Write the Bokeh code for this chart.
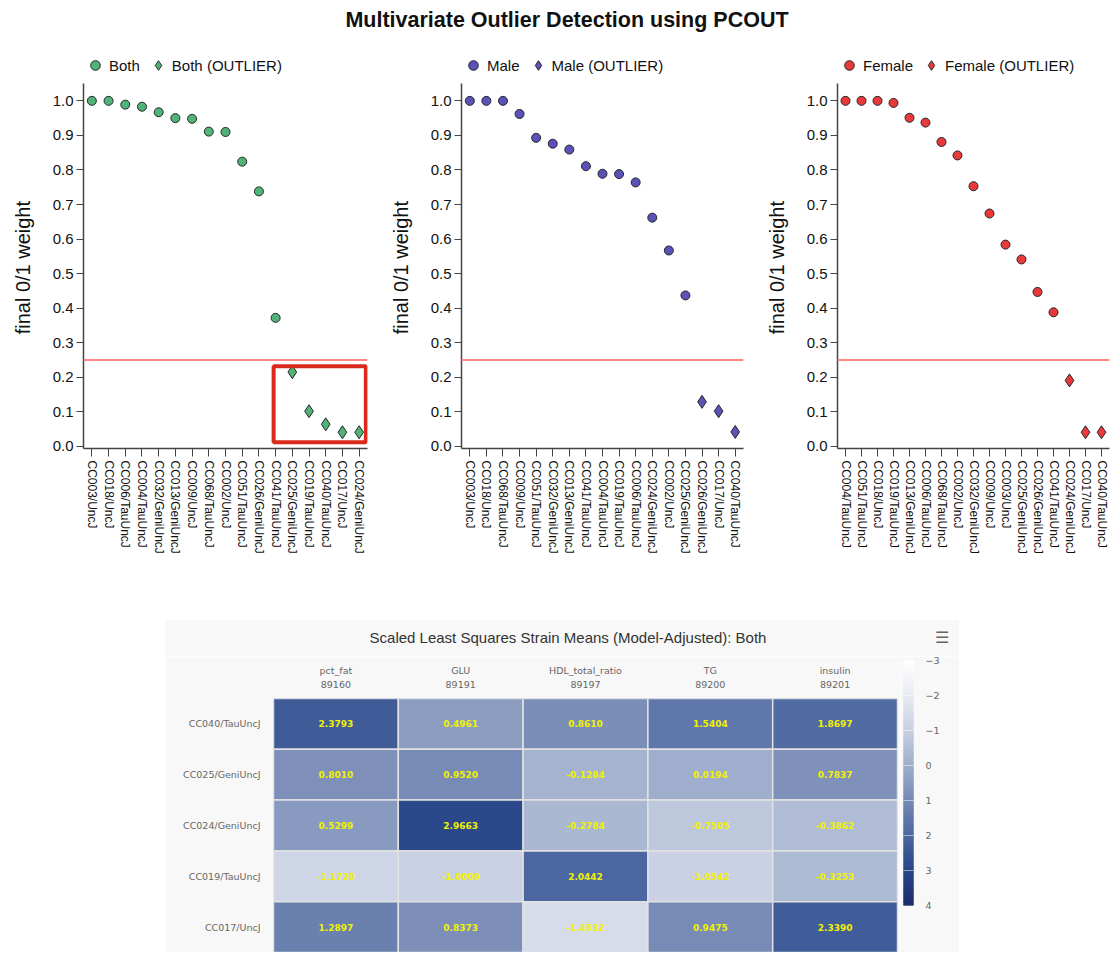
import numpy as np
from bokeh.plotting import figure
from bokeh.models import (FactorRange, Range1d, Legend, LegendItem, Span, BoxAnnotation,
                          FixedTicker, NumeralTickFormatter, ColumnDataSource,
                          LinearColorMapper, Div)
from bokeh.layouts import column, row
from bokeh.transform import transform
from bokeh.core.properties import value
from bokeh.embed import file_html
from bokeh.resources import INLINE

# ---------------- data ----------------
TITLE = "Multivariate Outlier Detection using PCOUT"
THRESHOLD = 0.25
Y_LABEL = "final 0/1 weight"
Y_TICKS = [0.0, 0.1, 0.2, 0.3, 0.4, 0.5, 0.6, 0.7, 0.8, 0.9, 1.0]

both_strains = ["CC003/UncJ", "CC018/UncJ", "CC006/TauUncJ", "CC004/TauUncJ", "CC032/GeniUncJ",
                "CC013/GeniUncJ", "CC009/UncJ", "CC068/TauUncJ", "CC002/UncJ", "CC051/TauUncJ",
                "CC026/GeniUncJ", "CC041/TauUncJ", "CC025/GeniUncJ", "CC019/TauUncJ",
                "CC040/TauUncJ", "CC017/UncJ", "CC024/GeniUncJ"]
both_weights = [1.0, 1.0, 0.989, 0.983, 0.967, 0.950, 0.948, 0.911, 0.910, 0.824, 0.738,
                0.372, 0.215, 0.102, 0.064, 0.041, 0.041]

male_strains = ["CC003/UncJ", "CC018/UncJ", "CC068/TauUncJ", "CC009/UncJ", "CC051/TauUncJ",
                "CC032/GeniUncJ", "CC013/GeniUncJ", "CC041/TauUncJ", "CC004/TauUncJ",
                "CC019/TauUncJ", "CC006/TauUncJ", "CC024/GeniUncJ", "CC002/UncJ",
                "CC025/GeniUncJ", "CC026/GeniUncJ", "CC017/UncJ", "CC040/TauUncJ"]
male_weights = [1.0, 1.0, 1.0, 0.962, 0.893, 0.876, 0.859, 0.811, 0.789, 0.788, 0.764,
                0.662, 0.567, 0.437, 0.129, 0.102, 0.042]

female_strains = ["CC004/TauUncJ", "CC051/TauUncJ", "CC018/UncJ", "CC019/TauUncJ",
                  "CC013/GeniUncJ", "CC006/TauUncJ", "CC068/TauUncJ", "CC002/UncJ",
                  "CC032/GeniUncJ", "CC009/UncJ", "CC003/UncJ", "CC025/GeniUncJ",
                  "CC026/GeniUncJ", "CC041/TauUncJ", "CC024/GeniUncJ", "CC017/UncJ",
                  "CC040/TauUncJ"]
female_weights = [1.0, 1.0, 1.0, 0.994, 0.951, 0.937, 0.881, 0.842, 0.753, 0.674, 0.584,
                  0.541, 0.447, 0.388, 0.191, 0.041, 0.041]

# highlight box drawn around the "Both" outliers (x in category units, y in weight units)
HIGHLIGHT = dict(left=11.38, right=16.9, bottom=0.012, top=0.232)

HEAT_TITLE = "Scaled Least Squares Strain Means (Model-Adjusted): Both"
traits = ["pct_fat", "GLU", "HDL_total_ratio", "TG", "insulin"]
trait_ids = ["89160", "89191", "89197", "89200", "89201"]
heat_strains = ["CC040/TauUncJ", "CC025/GeniUncJ", "CC024/GeniUncJ", "CC019/TauUncJ", "CC017/UncJ"]
heat_values = [
    [2.3793, 0.4961, 0.8610, 1.5404, 1.8697],
    [0.8010, 0.9520, -0.1284, 0.0194, 0.7837],
    [0.5299, 2.9663, -0.2784, -0.7505, -0.3862],
    [-1.1720, -1.0009, 2.0442, -1.0542, -0.3253],
    [1.2897, 0.8373, -1.4532, 0.9475, 2.3390],
]
CB_LOW, CB_HIGH = -3, 4
CB_TICKS = [-3, -2, -1, 0, 1, 2, 3, 4]
CB_ANCHORS = ["#ffffff", "#e8ebf3", "#c8d0e3", "#a0afcc", "#7689b5", "#4d68a1", "#29478a", "#1c2d70"]

FONT = "Liberation Sans"
SMALL_FONT = "DejaVu Sans"
PANEL_H, BORDER_TOP, BORDER_BOTTOM = 553, 8, 150
Y_BOTTOM, Y_AXIS_TOP, Y_FRAME_TOP = -0.006, 1.05, 1.137   # frame extends above the axis for the legend
BG = "#f8f8f8"


def make_palette(anchors, n=256):
    rgb = np.array([[int(a[i:i + 2], 16) for i in (1, 3, 5)] for a in anchors], dtype=float)
    pos = np.linspace(0, 1, len(anchors))
    t = np.linspace(0, 1, n)
    out = []
    for tt in t:
        r = [np.interp(tt, pos, rgb[:, k]) for k in range(3)]
        out.append("#%02x%02x%02x" % tuple(int(round(c)) for c in r))
    return out


def panel(name, strains, weights, color, width, bl, br, highlight=None):
    p = figure(x_range=FactorRange(factors=strains), y_range=Range1d(Y_BOTTOM, Y_FRAME_TOP),
               width=width, height=PANEL_H, output_backend="svg", toolbar_location=None,
               min_border_left=bl, min_border_right=br, min_border_top=BORDER_TOP,
               min_border_bottom=BORDER_BOTTOM,
               outline_line_color=None, background_fill_color="white", border_fill_color="white")
    p.grid.visible = False
    inl = ColumnDataSource(dict(x=[s for s, w in zip(strains, weights) if w >= THRESHOLD],
                                y=[w for w in weights if w >= THRESHOLD]))
    out = ColumnDataSource(dict(x=[s for s, w in zip(strains, weights) if w < THRESHOLD],
                                y=[w for w in weights if w < THRESHOLD]))
    p.add_layout(Span(location=THRESHOLD, dimension="width", line_color="#ff8585", line_width=2))
    r1 = p.scatter("x", "y", source=inl, marker="circle", size=9, fill_color=color,
                   line_color="#262626", line_width=1)
    r2 = p.scatter("x", "y", source=out, marker="diamond", size=13, fill_color=color,
                   line_color="#262626", line_width=1)
    if highlight:
        p.add_layout(BoxAnnotation(fill_alpha=0, line_color="#d92a1c", line_alpha=1.0,
                                   line_width=4, **highlight))
    leg = Legend(items=[LegendItem(label=name, renderers=[r1]),
                        LegendItem(label=name + " (OUTLIER)", renderers=[r2])],
                 orientation="horizontal", location="top_left", glyph_width=24,
                 glyph_height=24, label_standoff=2, spacing=6, padding=3, margin=0,
                 border_line_color=None, background_fill_alpha=0, label_text_font=FONT,
                 label_text_font_size="15px", label_text_color="#111111")
    p.add_layout(leg, "center")

    ya = p.yaxis[0]
    ya.bounds = (Y_BOTTOM, Y_AXIS_TOP)
    ya.ticker = FixedTicker(ticks=Y_TICKS)
    ya.formatter = NumeralTickFormatter(format="0.0")
    # trailing no-break spaces centre the label on the axis line instead of the taller frame
    ya.axis_label = Y_LABEL + "\u00a0" * 6
    ya.axis_label_text_font = FONT
    ya.axis_label_text_font_size = "20px"
    ya.axis_label_text_font_style = "normal"
    ya.axis_label_text_color = "#111111"
    ya.axis_label_standoff = 16
    ya.major_label_text_font = FONT
    ya.major_label_text_font_size = "15px"
    ya.major_label_text_color = "#111111"
    ya.major_label_standoff = 3
    ya.major_tick_out = 7
    ya.major_tick_in = 0
    ya.minor_tick_out = 0
    ya.minor_tick_in = 0
    ya.axis_line_color = "#444444"
    ya.axis_line_width = 1.5
    ya.major_tick_line_color = "#444444"

    xa = p.xaxis[0]
    xa.major_label_orientation = "vertical"
    xa.major_label_text_font = FONT
    xa.major_label_text_font_size = "12px"
    xa.major_label_text_color = "#111111"
    xa.major_label_standoff = 4
    xa.major_tick_out = 8
    xa.major_tick_in = 0
    xa.axis_line_color = "#444444"
    xa.axis_line_width = 1.5
    xa.major_tick_line_color = "#444444"
    return p


p1 = panel("Both", both_strains, both_weights, "#50b478", 372, 75, 13, HIGHLIGHT)
p2 = panel("Male", male_strains, male_weights, "#5b52b8", 376, 81, 13)
p3 = panel("Female", female_strains, female_weights, "#e8393b", 356, 81, 3)

title_div = Div(text=('<div style="box-sizing:border-box;width:1104px;padding-left:14px;'
                      'text-align:center;font-family:\'Liberation Sans\',Arial,sans-serif;'
                      'font-weight:bold;font-size:21.5px;line-height:24px;color:#111;">'
                      + TITLE + '</div>'),
                width=1104, height=37, margin=(0, 0, 0, 0))

# ---------------- heatmap ----------------
palette = make_palette(CB_ANCHORS)
mapper = LinearColorMapper(palette=palette, low=CB_LOW, high=CB_HIGH)
header = [t + "\n" + i for t, i in zip(traits, trait_ids)]
xs, ys, vs, labs = [], [], [], []
for strain, vals in zip(heat_strains, heat_values):
    for h, v in zip(header, vals):
        xs.append(h)
        ys.append(strain)
        vs.append(v)
        labs.append("%.4f" % v)
hsrc = ColumnDataSource(dict(x=xs, y=ys, v=vs, lab=labs))

heat_title_div = Div(text=(
    '<div style="position:relative;box-sizing:border-box;width:794px;height:36px;'
    'background:' + BG + ';padding-top:9px;padding-left:12px;text-align:center;'
    'font-family:\'Liberation Sans\',Arial,sans-serif;font-size:15px;line-height:18px;color:#333;">'
    + HEAT_TITLE +
    '<span style="position:absolute;left:770px;top:10px;font-family:\'DejaVu Sans\';'
    'font-size:16px;line-height:16px;color:#666;">\u2630</span></div>'),
    width=794, height=36, margin=(0, 0, 0, 0))

heat = figure(x_range=FactorRange(factors=header), y_range=FactorRange(factors=list(reversed(heat_strains))),
              x_axis_location="above", width=735, height=296, output_backend="svg",
              toolbar_location=None, min_border_left=108, min_border_right=3, min_border_top=42,
              min_border_bottom=0, outline_line_color=None, background_fill_color=BG,
              border_fill_color=BG, frame_align=False)
heat.grid.visible = False
heat.rect("x", "y", width=1, height=1, source=hsrc, fill_color=transform("v", mapper),
          line_color="#e2e2e2", line_width=1.5)
heat.text("x", "y", text="lab", source=hsrc, text_align="center", text_baseline="middle",
          text_color="#f2f200", text_font=value(SMALL_FONT), text_font_style="bold",
          text_font_size="9px")
for ax in (heat.xaxis[0], heat.yaxis[0]):
    ax.axis_line_color = None
    ax.major_tick_line_color = None
    ax.minor_tick_line_color = None
    ax.major_tick_out = 0
    ax.major_tick_in = 0
    ax.major_label_text_font = SMALL_FONT
    ax.major_label_text_font_size = "9.5px"
    ax.major_label_text_color = "#666666"
heat.xaxis[0].major_label_standoff = 9
heat.yaxis[0].major_label_standoff = 13

# colour bar (vertical, -3 on top)
cb_steps = np.linspace(CB_LOW, CB_HIGH, 141)
cbsrc = ColumnDataSource(dict(y=cb_steps))
cb = figure(x_range=Range1d(0, 1), y_range=Range1d(CB_HIGH, CB_LOW), width=59, height=296,
            output_backend="svg", toolbar_location=None, x_axis_location=None,
            y_axis_location="right", min_border_left=3, min_border_right=46, min_border_top=4,
            min_border_bottom=47, outline_line_color=None, background_fill_color=BG,
            border_fill_color=BG, frame_align=False)
cb.hbar(y="y", height=0.06, left=0, right=1, source=cbsrc, fill_color=transform("y", mapper),
        line_color=transform("y", mapper), line_width=1)
cb.xgrid.visible = False
cb.ygrid.ticker = FixedTicker(ticks=CB_TICKS)
cb.ygrid.grid_line_color = "white"
cb.ygrid.grid_line_alpha = 0.5
cb.ygrid.level = "overlay"
cya = cb.yaxis[0]
cya.ticker = FixedTicker(ticks=CB_TICKS)
cya.axis_line_color = None
cya.major_tick_line_color = None
cya.minor_tick_line_color = None
cya.major_tick_out = 0
cya.major_label_text_font = SMALL_FONT
cya.major_label_text_font_size = "9.5px"
cya.major_label_text_color = "#666666"
cya.major_label_standoff = 12

top = row(p1, p2, p3, spacing=0)
bottom = column(heat_title_div, row(heat, cb, spacing=0), spacing=0, margin=(22, 0, 0, 157))
page = column(title_div, top, bottom, spacing=0, margin=(8, 0, 0, 8))

open("out.html", "w").write(file_html(page, INLINE, title=TITLE))
